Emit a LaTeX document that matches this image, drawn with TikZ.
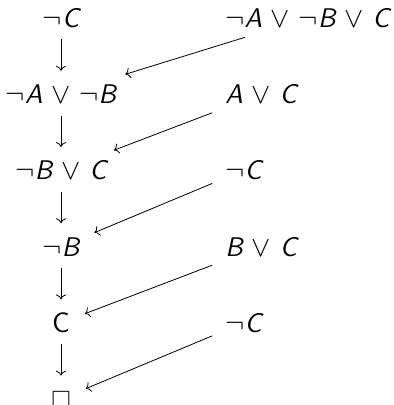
\documentclass[tikz,border=0pt]{standalone}
\usepackage{amsmath, amssymb}
\usepackage{tikz}
\usetikzlibrary{arrows.meta, positioning}

\begin{document}
\begin{tikzpicture}[
    node distance=19.7pt,
    lit/.style={font=\fontsize{13.5}{16}\selectfont\sffamily\slshape, inner xsep=5pt,
        inner ysep=4.3pt, text height=9.4pt, text depth=0pt},
    prem/.style={lit, anchor=north west},
    stepline/.style={->, shorten <=1.5pt, shorten >=2.5pt},
    premline/.style={->, shorten <=1.5pt, shorten >=2.5pt}
]
    \useasboundingbox (-30.5pt,9pt) rectangle (166pt,-193.5pt);

    % Nodes
    \node[lit] (s1) {$\neg$C};
    \node[lit, below=of s1] (s2) {$\neg$A $\vee$ $\neg$B};
    \node[lit, below=of s2] (s3) {$\neg$B $\vee$ C};
    \node[lit, below=of s3] (s4) {$\neg$B};
    \node[lit, below=of s4] (s5) {\fontsize{14}{16}\selectfont\upshape C};
    \node[lit, below=of s5] (s6) {\fontsize{12.5}{15}\selectfont$\Box$};

    \node[lit, anchor=west] (p1) at (77pt,0) {$\neg$A $\vee$ $\neg$B $\vee$ C};
    \node[prem, below=of p1.south west, anchor=north west] (p2) {A $\vee$ C};
    \node[prem, below=of p2.south west, anchor=north west] (p3) {$\neg$C};
    \node[prem, below=of p3.south west, anchor=north west] (p4) {B $\vee$ C};
    \node[prem, below=of p4.south west, anchor=north west] (p5) {$\neg$C};

    % Arrows
    \foreach \i/\j in {1/2, 2/3, 3/4, 4/5, 5/6} {
        \draw[stepline] (s\i) -- (s\j);
        \draw[premline] (p\i) -- (s\j);
    }
\end{tikzpicture}
\end{document}
